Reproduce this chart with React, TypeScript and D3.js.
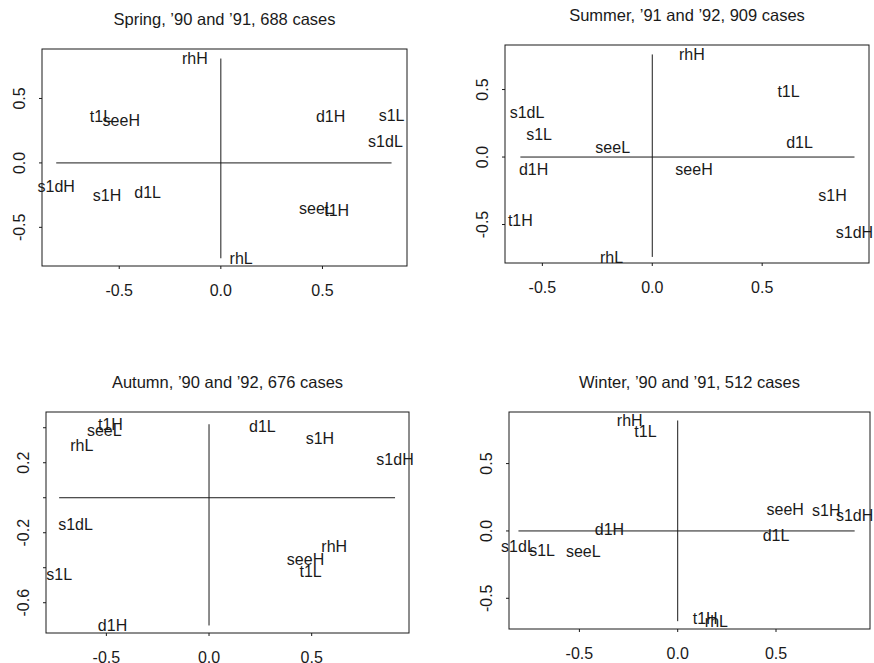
import React, { useRef, useEffect } from "react";
import * as d3 from "d3";

// category labels, same set in every season
const categories = ["s1H", "s1L", "s1dH", "s1dL", "d1H", "d1L", "t1H", "t1L", "rhH", "rhL", "seeH", "seeL"];

// coordinates (dim 1, dim 2)
const springX = [-0.56, 0.84, -0.81, 0.81, 0.54, -0.36, 0.57, -0.59, -0.128, 0.1, -0.49, 0.47];
const springY = [-0.25, 0.37, -0.18, 0.17, 0.36, -0.23, -0.37, 0.36, 0.81, -0.74, 0.33, -0.35];

const summerX = [0.82, -0.515, 0.92, -0.57, -0.54, 0.67, -0.6, 0.62, 0.18, -0.185, 0.19, -0.18];
const summerY = [-0.28, 0.17, -0.56, 0.33, -0.09, 0.11, -0.47, 0.49, 0.76, -0.74, -0.09, 0.07];

const autumnX = [0.54, -0.73, 0.906, -0.65, -0.47, 0.26, -0.48, 0.495, 0.61, -0.62, 0.47, -0.51];
const autumnY = [0.34, -0.44, 0.22, -0.15, -0.73, 0.41, 0.42, -0.42, -0.28, 0.3, -0.35, 0.385];

const winterX = [0.756, -0.69, 0.9, -0.81, -0.347, 0.5, 0.14, -0.164, -0.244, 0.197, 0.547, -0.48];
const winterY = [0.15, -0.14, 0.12, -0.11, 0.01, -0.03, -0.65, 0.74, 0.82, -0.67, 0.16, -0.15];

const titles = [
  "Spring, \u201990 and \u201991, 688 cases",
  "Summer, \u201991 and \u201992, 909 cases",
  "Autumn, \u201990 and \u201992, 676 cases",
  "Winter, \u201990 and \u201991, 512 cases",
];

const xTicks = [-0.5, 0, 0.5];
const yTicksHalf = [-0.5, 0, 0.5];
const yTicksAutumn = [-0.6, -0.4, -0.2, 0, 0.2, 0.4];
const yLabelsAutumn = [-0.6, -0.2, 0.2];

const panels = [
  { title: titles[0], xs: springX, ys: springY, box: [42, 49, 407, 266], xd: [-0.88, 0.916], yd: [-0.8, 0.884], yTicks: yTicksHalf, yLabels: yTicksHalf },
  { title: titles[1], xs: summerX, ys: summerY, box: [505, 45, 869, 263], xd: [-0.67, 0.986], yd: [-0.785, 0.83], yTicks: yTicksHalf, yLabels: yTicksHalf },
  { title: titles[2], xs: autumnX, ys: autumnY, box: [46, 412, 409, 633], xd: [-0.794, 0.974], yd: [-0.773, 0.49], yTicks: yTicksAutumn, yLabels: yLabelsAutumn },
  { title: titles[3], xs: winterX, ys: winterY, box: [509, 412, 870, 629], xd: [-0.858, 0.978], yd: [-0.728, 0.883], yTicks: yTicksHalf, yLabels: yTicksHalf },
];

const ink = "#1a1a1a";
const font = "'Liberation Sans', Arial, Helvetica, sans-serif";

// plain hyphen for negatives, like the original
const fmt = d3.formatLocale({ decimal: ".", thousands: ",", grouping: [3], currency: ["", ""], minus: "-" }).format(".1f");

export default function App() {
  const svgRef = useRef(null);

  useEffect(() => {
    document.body.style.margin = "0";
    const svg = d3.select(svgRef.current);
    svg.selectAll("*").remove();

    panels.forEach((p) => {
      const [x0, y0, x1, y1] = p.box;
      const x = d3.scaleLinear().domain(p.xd).range([x0, x1]);
      const y = d3.scaleLinear().domain(p.yd).range([y1, y0]);
      const g = svg.append("g");

      // frame
      g.append("rect")
        .attr("x", x0).attr("y", y0)
        .attr("width", x1 - x0).attr("height", y1 - y0)
        .attr("fill", "none").attr("stroke", ink).attr("stroke-width", 1);

      // title
      g.append("text")
        .attr("x", (x0 + x1) / 2).attr("y", y0 - 30).attr("dy", "0.35em")
        .attr("text-anchor", "middle").attr("font-size", 16.5)
        .text(p.title);

      // x axis
      g.selectAll(".xt").data(xTicks).enter().append("line")
        .attr("x1", (d) => x(d)).attr("x2", (d) => x(d))
        .attr("y1", y1).attr("y2", y1 + 3)
        .attr("stroke", ink);
      g.selectAll(".xl").data(xTicks).enter().append("text")
        .attr("x", (d) => x(d)).attr("y", y1 + 24.5).attr("dy", "0.35em")
        .attr("text-anchor", "middle").attr("font-size", 16)
        .text((d) => fmt(d));

      // y axis
      g.selectAll(".yt").data(p.yTicks).enter().append("line")
        .attr("x1", x0 - 3).attr("x2", x0)
        .attr("y1", (d) => y(d)).attr("y2", (d) => y(d))
        .attr("stroke", ink);
      g.selectAll(".yl").data(p.yLabels).enter().append("text")
        .attr("transform", (d) => `translate(${x0 - 22.5},${y(d)}) rotate(-90)`)
        .attr("dy", "0.35em")
        .attr("text-anchor", "middle").attr("font-size", 16)
        .text((d) => fmt(d));

      // cross through the origin spanning the points
      const xe = d3.extent(p.xs);
      const ye = d3.extent(p.ys);
      g.append("line")
        .attr("x1", x(xe[0])).attr("x2", x(xe[1]))
        .attr("y1", y(0)).attr("y2", y(0))
        .attr("stroke", ink);
      g.append("line")
        .attr("x1", x(0)).attr("x2", x(0))
        .attr("y1", y(ye[0])).attr("y2", y(ye[1]))
        .attr("stroke", ink);

      // point labels
      g.selectAll(".pt").data(categories).enter().append("text")
        .attr("x", (d, i) => x(p.xs[i]))
        .attr("y", (d, i) => y(p.ys[i]))
        .attr("dy", "0.36em")
        .attr("text-anchor", "middle").attr("font-size", 16)
        .text((d) => d);
    });
  }, []);

  return (
    <svg
      ref={svgRef}
      width={874}
      height={663}
      style={{ display: "block", background: "#fff", fontFamily: font, fill: ink }}
    ></svg>
  );
}
